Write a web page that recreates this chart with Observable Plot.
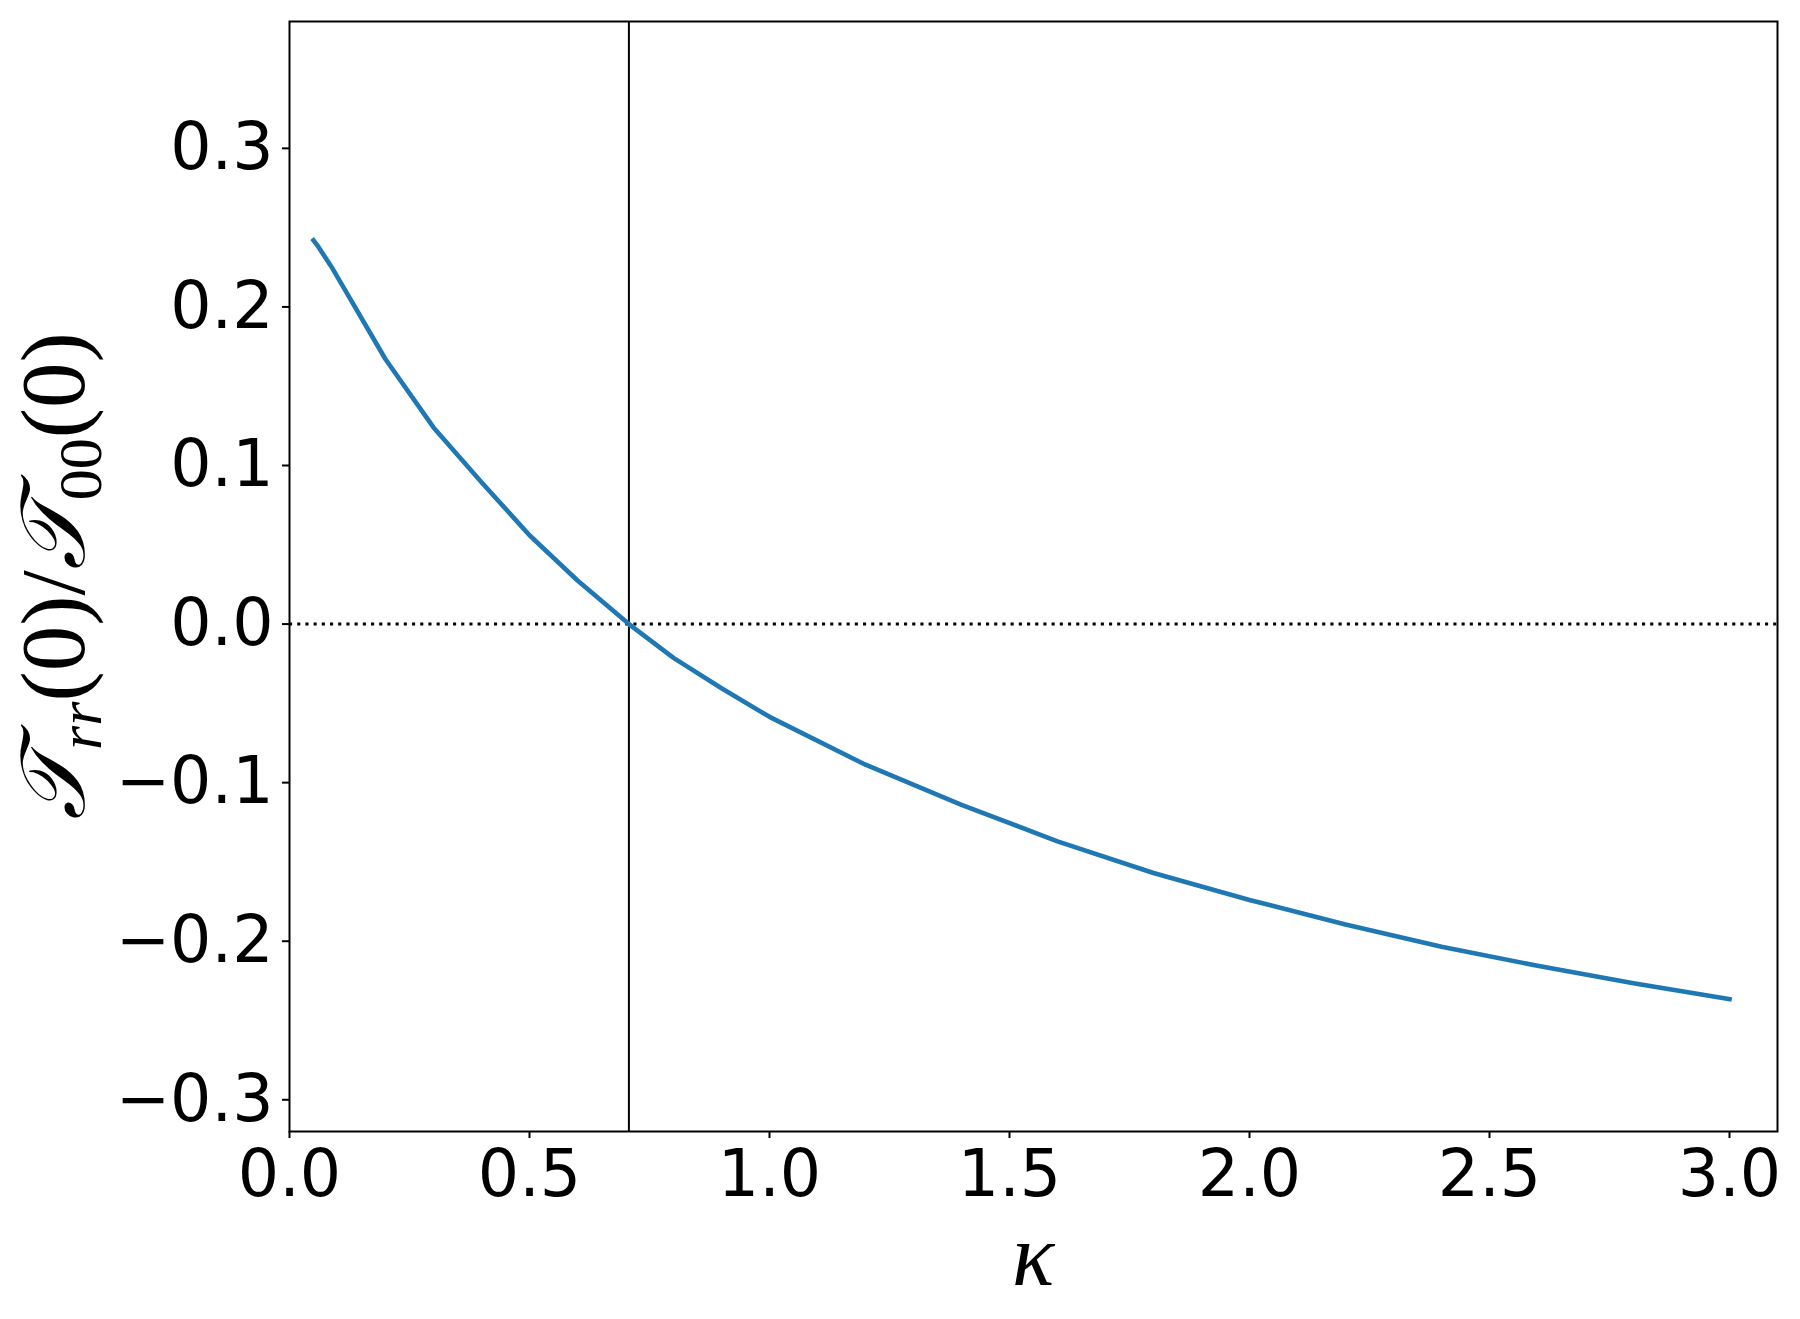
<!DOCTYPE html>
<html>
<head>
<meta charset="utf-8">
<style>
  html, body { margin: 0; padding: 0; background: #ffffff; }
  #chart svg { display: block; }
</style>
<script src="https://cdn.jsdelivr.net/npm/d3@7"></script>
<script src="https://cdn.jsdelivr.net/npm/@observablehq/plot@0.6"></script>
</head>
<body>
<div id="chart"></div>
<script>
// ---- data ----
const kappa = [0.05, 0.06, 0.09, 0.2, 0.3, 0.4, 0.5, 0.6, 0.7071, 0.8, 0.9, 1.0, 1.2, 1.4, 1.6, 1.8, 2.0, 2.2, 2.4, 2.6, 2.8, 3.0];
const ratio = [0.242, 0.238, 0.224, 0.167, 0.124, 0.0895, 0.056, 0.0275, 0.0, -0.0213, -0.0405, -0.0585, -0.0887, -0.114, -0.137, -0.157, -0.174, -0.1895, -0.2035, -0.2155, -0.2265, -0.2365];
const kappaCritical = [0.7071];
const zeroLevel = [0];
const xTicks = [0, 0.5, 1.0, 1.5, 2.0, 2.5, 3.0];
const yTicks = [-0.3, -0.2, -0.1, 0.0, 0.1, 0.2, 0.3];
const xDomain = [0, 3.1];
const yDomain = [-0.32, 0.38];
const xLabel = "κ";

const data = kappa.map((k, i) => ({kappa: k, ratio: ratio[i]}));
const fmt = d3.format(".1f");

const chart = Plot.plot({
  width: 1800,
  height: 1319,
  marginLeft: 289,
  marginRight: 23,
  marginTop: 21,
  marginBottom: 188,
  style: {fontFamily: "DejaVu Sans", fontSize: "65px", background: "#ffffff", color: "#000000"},
  x: {domain: xDomain},
  y: {domain: yDomain},
  marks: [
    Plot.ruleY(zeroLevel, {stroke: "#000000", strokeWidth: 3, strokeDasharray: "3.1,5.1"}),
    Plot.ruleX(kappaCritical, {stroke: "#000000", strokeWidth: 2}),
    Plot.line(data, {x: "kappa", y: "ratio", stroke: "#1f77b4", strokeWidth: 4.6, strokeLinejoin: "round", strokeLinecap: "square"}),
    Plot.axisX({ticks: xTicks, tickFormat: fmt, tickSize: 7, tickPadding: 11, strokeWidth: 2, fontSize: 65, label: null}),
    Plot.axisY({ticks: yTicks, tickFormat: fmt, tickSize: 7, tickPadding: 9, strokeWidth: 2, fontSize: 65, label: null}),
    Plot.frame({stroke: "#000000", strokeWidth: 2})
  ]
});

document.getElementById("chart").appendChild(chart);

// axis titles (math-style labels)
const svg = d3.select(chart);
const cx = (289 + (1800 - 23)) / 2;
const cy = (21 + (1319 - 188)) / 2;

svg.append("text")
  .attr("x", cx)
  .attr("y", 1285)
  .attr("text-anchor", "middle")
  .attr("font-family", "Liberation Serif, DejaVu Serif, serif")
  .attr("font-style", "italic")
  .attr("font-size", 88)
  .attr("fill", "#000")
  .text(xLabel);

const yl = svg.append("text")
  .attr("transform", `translate(84,${cy}) rotate(-90)`)
  .attr("text-anchor", "middle")
  .attr("font-family", "Liberation Serif, DejaVu Serif, serif")
  .attr("font-size", 91)
  .attr("fill", "#000");
yl.append("tspan").attr("font-style", "italic").text("𝒯");
yl.append("tspan").attr("font-style", "italic").attr("font-size", 62).attr("dy", 17).text("rr");
yl.append("tspan").attr("dy", -17).text("(0)/");
yl.append("tspan").attr("font-style", "italic").text("𝒯");
yl.append("tspan").attr("font-size", 62).attr("dy", 17).text("00");
yl.append("tspan").attr("dy", -17).text("(0)");
</script>
</body>
</html>
